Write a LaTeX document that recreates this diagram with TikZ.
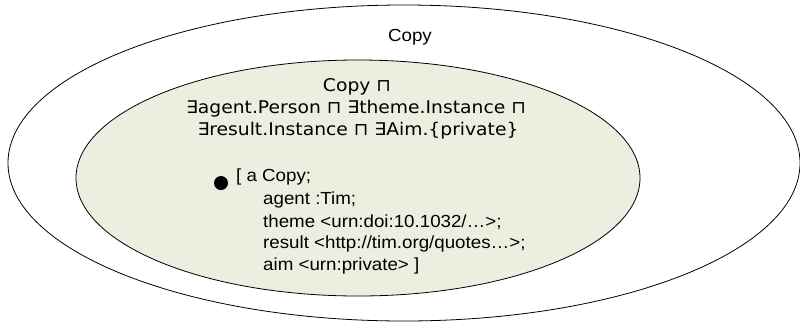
\documentclass[tikz,border=0pt]{standalone}
\usepackage{fontspec}
\setmainfont{Liberation Sans}
\newfontfamily\dlfont{DejaVu Sans}
\usepackage{tikz}
\definecolor{innerfill}{HTML}{ECEEE0}

\begin{document}
\begin{tikzpicture}
  [x=1pt,y=-1pt,every node/.style={inner sep=0pt,xscale=1.07,font=\fontsize{17.5}{20}\selectfont},
   dl/.style={font=\dlfont\fontsize{17.5}{20}\selectfont},
   triple/.style={anchor=west}]
  \useasboundingbox (0,0) rectangle (800,322);
  \draw[line width=0.8pt] (404,163) ellipse [x radius=396, y radius=158];
  \draw[line width=0.8pt,fill=innerfill] (358,178) ellipse [x radius=282, y radius=118];

  \node (outer) at (410,37) {Copy};
  \node[dl] (c1) at (357,87) {Copy ⊓};
  \node[dl] (c2) at (356,109) {∃agent.Person ⊓ ∃theme.Instance ⊓};
  \node[dl] (c3) at (358,131) {∃result.Instance ⊓ ∃Aim.\{private\}};

  \fill (221,183) circle (7);
  \node[triple] (t1) at (236,177) {[ a Copy;};
  \node[triple] (t2) at (263,200) {agent :Tim;};
  \node[triple] (t3) at (263,222) {theme <urn:doi:10.1032/…>;};
  \node[triple] (t4) at (263,244) {result <http://tim.org/quotes…>;};
  \node[triple] (t5) at (263,266) {aim <urn:private> ]};

\end{tikzpicture}
\end{document}
